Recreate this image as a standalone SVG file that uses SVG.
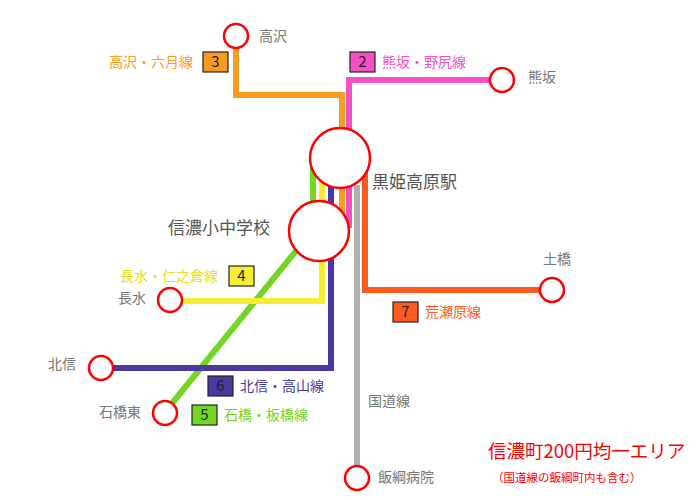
<svg xmlns="http://www.w3.org/2000/svg" width="700" height="500" viewBox="0 0 700 500">
<style>
.ln{fill:none;stroke-width:6}
.st{fill:#fff;stroke:#f00;stroke-width:2.5}
text{font-family:"Noto Sans CJK JP","Noto Sans",sans-serif;font-size:14px}
.g{fill:#777}
.num{fill:#222;font-size:15px;text-anchor:middle}
.bx{stroke:#222;stroke-width:1.2}
</style>
<rect width="700" height="500" fill="#fff"/>
<g id="connectors">
<polyline class="ln" stroke="#f99c20" points="236,36 236,95 342,95 342,215"/>
<polyline class="ln" stroke="#f550c3" points="502,80 349,80 349,228"/>
<polyline class="ln" stroke="#73d624" points="313,150 313,230 165,412"/>
<polyline class="ln" stroke="#f7ee33" points="322,180 322,301 170,301"/>
<polyline class="ln" stroke="#4a39a0" points="331,185 331,368 101,368"/>
<polyline class="ln" stroke="#b0b0b0" points="357,185 357,478"/>
<polyline class="ln" stroke="#ff5a1f" points="365,160 365,290 552,290"/>
</g>
<g id="n-kurohime"><circle class="st" cx="340" cy="158" r="30"/><text x="372" y="188" style="font-size:17px" fill="#555">黒姫高原駅</text></g>
<g id="n-school"><circle class="st" cx="319" cy="231" r="30"/><text x="168" y="234" style="font-size:17px" fill="#555">信濃小中学校</text></g>
<g id="n-takasawa"><circle class="st" cx="236" cy="36" r="12"/><text class="g" x="259" y="41">高沢</text></g>
<g id="n-kumasaka"><circle class="st" cx="502" cy="80" r="12"/><text class="g" x="528" y="82">熊坂</text></g>
<g id="n-tsuchihashi"><circle class="st" cx="552" cy="290" r="12"/><text class="g" x="543" y="264">土橋</text></g>
<g id="n-nagamizu"><circle class="st" cx="170" cy="300" r="12"/><text class="g" x="118" y="303">長水</text></g>
<g id="n-kitanobu"><circle class="st" cx="101" cy="368" r="12"/><text class="g" x="48" y="369">北信</text></g>
<g id="n-ishibashi"><circle class="st" cx="165" cy="413" r="12"/><text class="g" x="99" y="417">石橋東</text></g>
<g id="n-iizuna"><circle class="st" cx="357" cy="478" r="12"/><text class="g" x="378" y="482">飯綱病院</text></g>
<g id="labels">
<text class="g" x="368" y="406">国道線</text>
<text x="109" y="67" fill="#f99c20">高沢・六月線</text>
<rect class="bx" x="203" y="52" width="25" height="20" fill="#f99c20"/><text class="num" x="215.5" y="67">3</text>
<rect class="bx" x="350" y="52" width="25" height="20" fill="#f550c3"/><text class="num" x="362.5" y="67">2</text>
<text x="382" y="67" fill="#f550c3">熊坂・野尻線</text>
<text x="120" y="281" fill="#e8de1a">長水・仁之倉線</text>
<rect class="bx" x="229" y="266" width="25" height="20" fill="#f7ee33"/><text class="num" x="241.5" y="281">4</text>
<rect class="bx" x="393" y="302" width="25" height="20" fill="#ff5a1f"/><text class="num" x="405.5" y="317" fill="#fff">7</text>
<text x="425" y="317" fill="#ff5a1f">荒瀬原線</text>
<rect class="bx" x="208" y="376" width="25" height="20" fill="#4a39a0"/><text class="num" x="220.5" y="391" fill="#fff">6</text>
<text x="240" y="391" fill="#4a39a0">北信・高山線</text>
<rect class="bx" x="192" y="405" width="25" height="20" fill="#73d624"/><text class="num" x="204.5" y="420">5</text>
<text x="224" y="420" fill="#73d624">石橋・板橋線</text>
<text x="488" y="458" fill="#f00" style="font-size:18.5px">信濃町200円均一エリア</text>
<text x="492" y="482" fill="#f00" style="font-size:11.5px">（国道線の飯綱町内も含む）</text>
</g>
</svg>
